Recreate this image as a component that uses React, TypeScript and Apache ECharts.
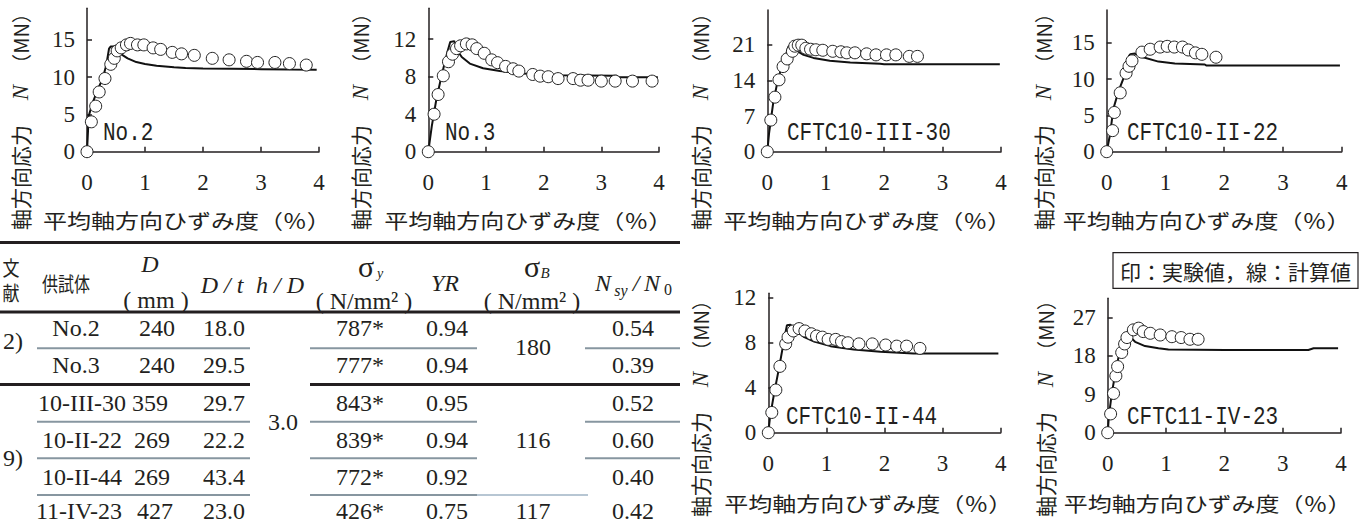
import React, { useEffect, useRef } from 'react';
import * as echarts from 'echarts';

// ---------- chart data: [strain %, axial force MN] ----------
const no2Exp = [[0,0],[0.075,4.0],[0.15,6.1],[0.21,8.0],[0.31,9.8],[0.41,11.7],[0.47,12.5],[0.52,13.5],[0.59,13.9],[0.68,14.3],[0.75,14.5],[0.87,14.3],[0.98,14.3],[1.14,13.9],[1.27,13.7],[1.47,13.3],[1.63,13.1],[1.85,12.9],[2.16,12.5],[2.45,12.3],[2.75,12.1],[2.94,11.95],[3.24,11.95],[3.49,11.8],[3.78,11.6]];
const no2Calc = [[0,0],[0.03,4.8],[0.1,6.6],[0.18,8.2],[0.27,9.8],[0.33,11.5],[0.38,13.8],[0.41,14.1],[0.47,14.1],[0.52,13.5],[0.6,13.0],[0.7,12.5],[0.85,12.0],[1.0,11.75],[1.2,11.5],[1.5,11.3],[1.7,11.2],[2.0,11.15],[2.5,11.1],[3.0,11.05],[3.5,11.0],[3.96,10.98]];

const no3Exp = [[0,0],[0.1,4.0],[0.17,6.1],[0.26,8.1],[0.35,9.6],[0.42,10.4],[0.49,11.0],[0.56,11.3],[0.66,11.5],[0.76,11.4],[0.84,11.0],[0.97,10.5],[1.1,9.8],[1.2,9.5],[1.34,9.1],[1.47,8.85],[1.57,8.6],[1.81,8.24],[1.94,8.06],[2.08,8.0],[2.25,7.8],[2.51,7.8],[2.64,7.63],[2.77,7.63],[3.0,7.53],[3.24,7.53],[3.54,7.53],[3.88,7.53]];
const no3Calc = [[0,0],[0.06,2.7],[0.14,5.6],[0.23,8.1],[0.33,10.6],[0.38,11.7],[0.45,11.8],[0.49,10.9],[0.58,10.1],[0.72,9.4],[0.95,8.9],[1.24,8.6],[1.65,8.35],[2.23,8.15],[3.27,8.1],[3.27,7.95],[3.98,7.95]];

const c1030Exp = [[0,0],[0.06,6.2],[0.13,10.7],[0.2,14.1],[0.27,16.7],[0.34,18.2],[0.43,19.7],[0.47,20.7],[0.53,20.9],[0.59,20.9],[0.66,20.3],[0.74,20.1],[0.83,20.0],[0.95,19.9],[1.12,19.7],[1.26,19.6],[1.36,19.4],[1.5,19.4],[1.7,19.2],[1.86,19.0],[2.04,19.0],[2.2,19.0],[2.43,18.7],[2.57,18.7]];
const c1030Calc = [[0,0],[0.03,3.6],[0.1,9.5],[0.17,13.5],[0.27,17.7],[0.33,19.4],[0.36,20.6],[0.4,20.8],[0.47,20.0],[0.62,19.0],[0.79,18.4],[1.07,17.85],[1.42,17.5],[1.93,17.25],[2.0,17.15],[3.98,17.15]];

const c1022Exp = [[0,0],[0.1,2.9],[0.13,5.4],[0.23,8.1],[0.33,10.8],[0.38,11.75],[0.43,12.5],[0.6,13.7],[0.74,14.1],[0.91,14.4],[1.03,14.5],[1.15,14.4],[1.29,14.4],[1.39,14.0],[1.51,13.6],[1.62,13.4],[1.86,13.0]];
const c1022Calc = [[0,0],[0.06,2.5],[0.11,5.8],[0.2,8.3],[0.31,10.6],[0.38,13.2],[0.4,13.4],[0.48,13.5],[0.62,13.0],[0.88,12.4],[1.16,12.15],[1.67,12.0],[1.7,11.85],[3.97,11.85]];

const c1044Exp = [[0,0],[0.06,1.8],[0.13,3.8],[0.2,5.9],[0.3,7.9],[0.34,8.5],[0.43,9.05],[0.53,9.26],[0.63,9.05],[0.74,8.8],[0.83,8.6],[0.93,8.5],[1.03,8.3],[1.16,8.3],[1.26,8.1],[1.37,8.0],[1.56,7.9],[1.79,7.9],[2.02,7.8],[2.21,7.7],[2.38,7.7],[2.61,7.5]];
const c1044Calc = [[0,0],[0.03,1.4],[0.1,3.5],[0.19,5.9],[0.27,8.2],[0.32,9.55],[0.38,9.6],[0.47,9.1],[0.62,8.5],[0.79,8.1],[1.07,7.7],[1.47,7.4],[1.93,7.2],[2.5,7.05],[3.96,7.05]];

const c1123Exp = [[0,0],[0.05,4.4],[0.1,9.2],[0.14,13.3],[0.17,15.5],[0.24,18.8],[0.29,20.8],[0.33,22.3],[0.44,24.1],[0.53,24.5],[0.61,23.7],[0.73,23.3],[0.9,22.9],[1.1,22.5],[1.26,22.3],[1.41,21.9],[1.55,21.9]];
const c1123Calc = [[0,0],[0.02,3.8],[0.07,9.2],[0.13,13.9],[0.21,19.4],[0.3,22.1],[0.35,22.9],[0.47,21.3],[0.64,20.3],[0.87,19.8],[1.04,19.5],[2.01,19.4],[3.44,19.4],[3.53,19.8],[3.95,19.8]];

const panelLabels = ['No.2', 'No.3', 'CFTC10-III-30', 'CFTC10-II-22', 'CFTC10-II-44', 'CFTC11-IV-23'];
const panelExp = [no2Exp, no3Exp, c1030Exp, c1022Exp, c1044Exp, c1123Exp];
const panelCalc = [no2Calc, no3Calc, c1030Calc, c1022Calc, c1044Calc, c1123Calc];
const panelYTicks = [[0,5,10,15],[0,4,8,12],[0,7,14,21],[0,5,10,15],[0,4,8,12],[0,9,18,27]];
const panelYStep = [5, 4, 7, 5, 4, 9];
const panelYMax = [19.2, 15.3, 27.8, 19.5, 12.4, 31.5];
const xTickStep = 1;
const xMax = 4;

const yAxisName = ['軸方向応力', 'N', '（MN）'];
const xAxisName = '平均軸方向ひずみ度（％）';
const legendText = '印：実験値，線：計算値';

// ---------- table data ----------
const refNos = ['2)', '9)'];
const specimens = ['No.2', 'No.3', '10-III-30', '10-II-22', '10-II-44', '11-IV-23'];
const diameters = ['240', '240', '359', '269', '269', '427'];
const dtRatios = ['18.0', '29.5', '29.7', '22.2', '43.4', '23.0'];
const hdRatio = '3.0';
const sigmaY = ['787*', '777*', '843*', '839*', '772*', '426*'];
const yieldRatios = ['0.94', '0.94', '0.95', '0.94', '0.92', '0.75'];
const sigmaB = ['180', '116', '117'];
const nsyRatios = ['0.54', '0.39', '0.52', '0.60', '0.40', '0.42'];

// ---------- layout ----------
const panelGrids = [
  { left: 87, top: 8.3, width: 232, height: 143.4 },
  { left: 428.3, top: 8.3, width: 230.7, height: 143.4 },
  { left: 767.3, top: 10, width: 233.7, height: 141.7 },
  { left: 1106.7, top: 10, width: 235, height: 141.7 },
  { left: 768.3, top: 293.3, width: 232.4, height: 139.4 },
  { left: 1107.7, top: 298.3, width: 233.3, height: 134.4 },
];
const labelPos = [[103, 133], [445, 133], [787, 133], [1127, 133], [786, 417], [1127, 417]];
const yNameX = [20, 360, 700, 1043, 700, 1045];
const yNameShift = [0, 0, 0, 0, 287, 287];
const xNameY = [220, 220, 220, 220, 503, 503];

const rowY = [328.3, 365, 403.3, 440, 476.7, 510.5];
const specX = [76, 76, 82, 82, 82, 79];
const diaX = [157, 157, 150, 152, 152, 155];

const CJK = "'Noto Sans CJK JP', sans-serif";
const SERIF = "'Liberation Serif', serif";
const MONO = "'Liberation Mono', monospace";
const INK = '#231f20';
const GRAY = '#8796a0';

function txt(x: number, y: number, text: string, o: any = {}) {
  return {
    type: 'text', x, y, scaleX: o.scaleX ?? 1, scaleY: o.scaleY ?? 1, rotation: o.rotation ?? 0,
    style: {
      text, fill: INK, fontSize: o.fontSize ?? 24, fontFamily: o.fontFamily ?? SERIF,
      fontStyle: o.fontStyle ?? 'normal', align: o.align ?? 'center', verticalAlign: 'middle',
    },
  };
}
function hline(x1: number, x2: number, y: number, color: string, w: number) {
  return { type: 'line', shape: { x1, y1: y, x2, y2: y }, style: { stroke: color, lineWidth: w } };
}

function buildOption() {
  const graphic: any[] = [];
  panelGrids.forEach((g, i) => {
    graphic.push(txt(labelPos[i][0], labelPos[i][1], panelLabels[i], { align: 'left', fontFamily: MONO, fontSize: 21, scaleY: 1.2 }));
    graphic.push(txt(g.left - 44, xNameY[i], xAxisName, { align: 'left', fontFamily: CJK, fontSize: 20, scaleX: 1.2 }));
    const s = yNameShift[i];
    const rot = Math.PI / 2;
    graphic.push(txt(yNameX[i], 230 + s, yAxisName[0], { align: 'left', fontFamily: CJK, fontSize: 21, rotation: rot }));
    graphic.push(txt(yNameX[i], 92.5 + s, yAxisName[1], { fontFamily: SERIF, fontStyle: 'italic', fontSize: 23, rotation: rot }));
    graphic.push(txt(yNameX[i], 38.5 + s, yAxisName[2], { fontFamily: CJK, fontSize: 20, rotation: rot }));
  });
  // legend box
  graphic.push({ type: 'rect', shape: { x: 1113, y: 252.7, width: 245, height: 35.6 }, style: { fill: '#fff', stroke: INK, lineWidth: 1.2 } });
  graphic.push(txt(1235.5, 270.5, legendText, { fontFamily: CJK, fontSize: 21 }));

  // table rules
  graphic.push(hline(0, 680, 242.5, INK, 3));
  graphic.push(hline(0, 680, 312, INK, 3));
  [348.3, 421.7, 458.3].forEach((y) => {
    graphic.push(hline(37, 250, y, GRAY, 2));
    graphic.push(hline(310, 477, y, GRAY, 2));
    graphic.push(hline(585, 680, y, GRAY, 2));
  });
  graphic.push(hline(0, 250, 384.5, INK, 3));
  graphic.push(hline(310, 680, 384.5, INK, 3));
  graphic.push(hline(37, 250, 495, GRAY, 2));
  graphic.push(hline(310, 477, 495, GRAY, 2));
  graphic.push(hline(477, 588, 495, '#9fb3c4', 1.5));

  // header
  graphic.push(txt(11, 267, '文', { fontFamily: CJK, fontSize: 20, scaleX: 0.85 }));
  graphic.push(txt(11, 292, '献', { fontFamily: CJK, fontSize: 20, scaleX: 0.85 }));
  graphic.push(txt(66, 283, '供試体', { fontFamily: CJK, fontSize: 20, scaleX: 0.8 }));
  graphic.push(txt(150, 264, 'D', { fontStyle: 'italic' }));
  graphic.push(txt(156, 300, '( mm )'));
  graphic.push(txt(222, 285, 'D / t', { fontStyle: 'italic' }));
  graphic.push(txt(280, 285, 'h / D', { fontStyle: 'italic' }));
  graphic.push(txt(366, 266, 'σ', { fontSize: 30 }));
  graphic.push(txt(380, 273, 'y', { fontStyle: 'italic', fontSize: 14 }));
  graphic.push(txt(364, 301, '( N/mm² )'));
  graphic.push(txt(445, 283, 'YR', { fontStyle: 'italic' }));
  graphic.push(txt(532, 266, 'σ', { fontSize: 30 }));
  graphic.push(txt(545, 273, 'B', { fontStyle: 'italic', fontSize: 15 }));
  graphic.push(txt(532, 301, '( N/mm² )'));
  graphic.push(txt(603, 283, 'N', { fontStyle: 'italic' }));
  graphic.push(txt(621, 290, 'sy', { fontStyle: 'italic', fontSize: 16 }));
  graphic.push(txt(636, 283, '/', { fontStyle: 'italic' }));
  graphic.push(txt(652, 283, 'N', { fontStyle: 'italic' }));
  graphic.push(txt(668, 289, '0', { fontSize: 16 }));

  // body
  graphic.push(txt(13, 341, refNos[0]));
  graphic.push(txt(13, 458, refNos[1]));
  specimens.forEach((sp, r) => {
    graphic.push(txt(specX[r], rowY[r], sp));
    graphic.push(txt(diaX[r], rowY[r], diameters[r]));
    graphic.push(txt(224, rowY[r], dtRatios[r]));
    graphic.push(txt(360, rowY[r], sigmaY[r]));
    graphic.push(txt(447, rowY[r], yieldRatios[r]));
    graphic.push(txt(633, rowY[r], nsyRatios[r]));
  });
  graphic.push(txt(283, 422, hdRatio));
  graphic.push(txt(533, 346.7, sigmaB[0]));
  graphic.push(txt(533, rowY[3], sigmaB[1]));
  graphic.push(txt(533, rowY[5], sigmaB[2]));

  const axisLine = { show: true, onZero: false, lineStyle: { color: INK, width: 1.5 } };
  const xAxis = panelGrids.map((_, i) => ({
    type: 'value', gridIndex: i, min: 0, max: xMax, interval: xTickStep,
    axisLine,
    axisTick: { show: true, inside: true, length: 5, lineStyle: { color: INK, width: 1.5 } },
    axisLabel: { show: true, margin: 19, fontSize: 23, fontFamily: SERIF, color: INK },
    splitLine: { show: false },
  }));
  const yAxis = panelGrids.map((_, i) => ({
    type: 'value', gridIndex: i, min: 0, max: panelYMax[i], interval: panelYStep[i],
    axisLine,
    axisTick: { show: true, inside: true, length: 5, lineStyle: { color: INK, width: 1.5 }, customValues: panelYTicks[i] },
    axisLabel: {
      show: true, margin: 12, fontSize: 23, fontFamily: SERIF, color: INK, customValues: panelYTicks[i],
      formatter: (v: number) => (panelYTicks[i].includes(v) ? String(v) : ''),
    },
    splitLine: { show: false },
  }));
  const series: any[] = [];
  panelGrids.forEach((_, i) => {
    series.push({
      type: 'line', xAxisIndex: i, yAxisIndex: i, data: panelCalc[i], symbol: 'none', showSymbol: false,
      lineStyle: { color: '#111', width: 2 }, z: 2, silent: true,
    });
    series.push({
      type: 'scatter', xAxisIndex: i, yAxisIndex: i, data: panelExp[i], symbol: 'circle', symbolSize: 12,
      itemStyle: { color: '#fff', borderColor: '#222', borderWidth: 1, opacity: 1 }, z: 3, silent: true,
    });
  });

  return {
    animation: false,
    backgroundColor: '#fff',
    grid: panelGrids.map((g) => ({ ...g, containLabel: false })),
    xAxis, yAxis, series, graphic,
  };
}

export default function App() {
  const ref = useRef<HTMLDivElement>(null);
  useEffect(() => {
    document.body.style.margin = '0';
    const chart = echarts.init(ref.current!, null, { renderer: 'svg' });
    chart.setOption(buildOption() as any);
    return () => chart.dispose();
  }, []);
  return <div ref={ref} style={{ position: 'fixed', left: 0, top: 0, width: 1372, height: 524, background: '#fff' }} />;
}
